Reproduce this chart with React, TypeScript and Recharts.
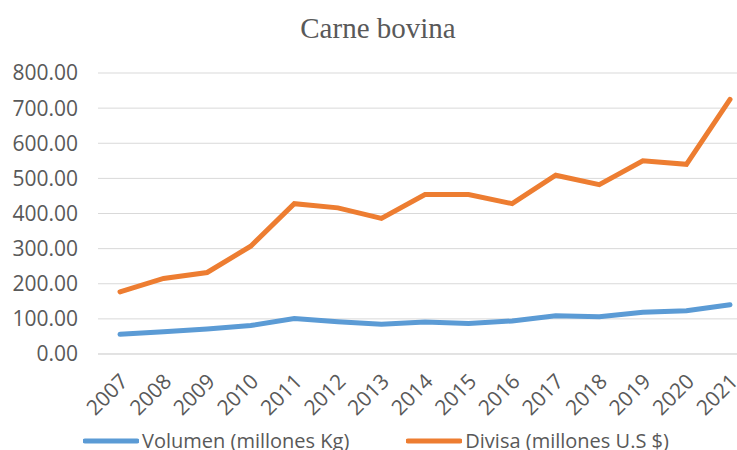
import React from 'react';
import { LineChart, Line, XAxis, YAxis, CartesianGrid, Legend } from 'recharts';

const years = ['2007','2008','2009','2010','2011','2012','2013','2014','2015','2016','2017','2018','2019','2020','2021'];
const volumen = [56, 63, 71, 81, 101, 92, 85, 91, 87, 94, 109, 106, 119, 123, 140];
const divisa = [177, 215, 232, 307, 428, 416, 386, 454, 454, 428, 509, 482, 550, 540, 725];
const yTicks = [0, 100, 200, 300, 400, 500, 600, 700, 800];
const seriesNames = ['Volumen (millones Kg)', 'Divisa (millones U.S $)'];
const title = 'Carne bovina';

const data = years.map((y, i) => ({ year: y, volumen: volumen[i], divisa: divisa[i] }));

const FONT = '"Open Sans", sans-serif';
const GRAY = '#595959';

const XTick = (props: any) => {
  const { x, y, payload } = props;
  return (
    <g transform={`translate(${x - 5},${y + 15})`}>
      <text x={0} y={0} dx={6} dy={14} textAnchor="end" transform="rotate(-45)" fill={GRAY} fontSize={21} fontFamily={FONT}>
        {payload.value}
      </text>
    </g>
  );
};

const LegendContent = (props: any) => {
  const { payload } = props;
  const items = [...(payload || [])].sort((a: any, b: any) => seriesNames.indexOf(a.value) - seriesNames.indexOf(b.value));
  return (
    <div style={{ display: 'flex', alignItems: 'center', fontFamily: FONT, fontSize: 20, color: GRAY, paddingLeft: 83 }}>
      {items.map((p: any, i: number) => (
        <div key={i} style={{ display: 'flex', alignItems: 'center', marginRight: 57 }}>
          <svg width={56} height={8}>
            <line x1={2} y1={4} x2={54} y2={4} stroke={p.color} strokeWidth={5} strokeLinecap="round" />
          </svg>
          <span style={{ marginLeft: 3, lineHeight: '24px' }}>{p.value}</span>
        </div>
      ))}
    </div>
  );
};

export default function App() {
  return (
    <div style={{ position: 'absolute', left: 0, top: 0, width: 737, height: 450, overflow: 'hidden', background: '#fff' }}>
      <div style={{ position: 'absolute', left: 0, top: 12, width: 756, textAlign: 'center', fontFamily: '"Liberation Serif", serif', fontSize: 29, color: GRAY, lineHeight: '32px' }}>
        {title}
      </div>
      <LineChart width={760} height={470} data={data} margin={{ top: 73, right: 8, left: 8, bottom: 32 }}>
        <CartesianGrid vertical={false} stroke="#D9D9D9" strokeWidth={1} />
        <XAxis dataKey="year" padding={{ left: 22, right: 22 }} stroke="#D9D9D9" tickLine={false} tick={<XTick />} height={60} interval={0} />
        <YAxis domain={[0, 800]} ticks={yTicks} width={90} axisLine={false} tickLine={false} tickMargin={14}
          tickFormatter={(v: number) => v.toFixed(2)} tick={{ fill: GRAY, fontSize: 21, fontFamily: FONT }} />
        <Legend verticalAlign="bottom" align="left" content={<LegendContent />} wrapperStyle={{ left: 0, bottom: 17 }} />
        <Line type="linear" dataKey="volumen" name={seriesNames[0]} stroke="#5B9BD5" strokeWidth={5} dot={false} strokeLinecap="round" isAnimationActive={false} />
        <Line type="linear" dataKey="divisa" name={seriesNames[1]} stroke="#ED7D31" strokeWidth={5} dot={false} strokeLinecap="round" isAnimationActive={false} />
      </LineChart>
    </div>
  );
}
